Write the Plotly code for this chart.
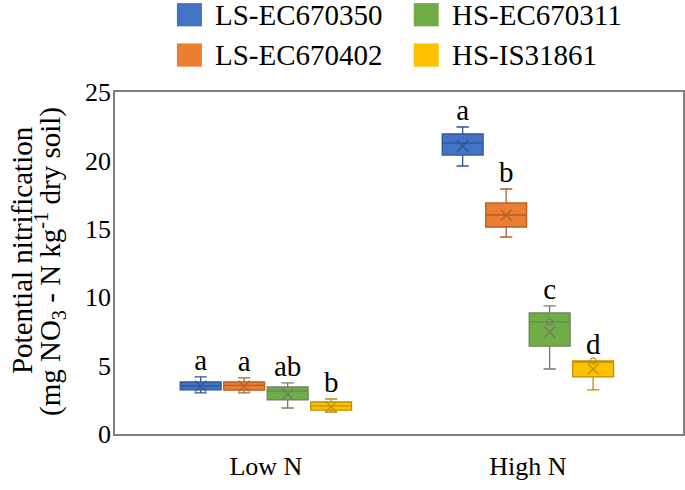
import plotly.graph_objects as go

categories = ["Low N", "High N"]
series = ["LS-EC670350", "LS-EC670402", "HS-EC670311", "HS-IS31861"]
fill_colors = ["#4472C4", "#ED7D31", "#70AD47", "#FFC000"]
line_colors = ["#2F5597", "#B0602A", "#6F7F63", "#BF9000"]

# statistics per series: [Low N, High N]
q1 = [[3.22, 20.39], [3.20, 15.13], [2.49, 6.43], [1.75, 4.17]]
median = [[3.51, 21.27], [3.55, 16.01], [3.14, 8.19], [2.05, 5.26]]
q3 = [[3.80, 21.93], [3.80, 16.89], [3.44, 8.85], [2.34, 5.34]]
lowerfence = [[3.00, 19.59], [3.00, 14.40], [1.90, 4.75], [1.61, 3.22]]
upperfence = [[4.17, 22.44], [4.10, 17.91], [3.73, 9.36], [2.56, 5.34]]
mean = [[3.50, 21.05], [3.50, 16.00], [2.92, 7.46], [2.00, 4.75]]
inner_points = [[None, None], [None, None], [None, 8.19], [None, 5.34]]
letters = [["a", "a"], ["a", "b"], ["ab", "c"], ["b", "d"]]

y_ticks = [0, 5, 10, 15, 20, 25]
y_title_lines = ["Potential nitrification",
                 "(mg NO<sub>3</sub> - N kg<sup>-1</sup> dry soil)"]

FONT = "Liberation Serif"
BOXGAP = 0.336

fig = go.Figure()
for i, name in enumerate(series):
    fig.add_trace(go.Box(
        name=name, x=categories, q1=q1[i], median=median[i], q3=q3[i],
        lowerfence=lowerfence[i], upperfence=upperfence[i],
        fillcolor=fill_colors[i], line=dict(color=line_colors[i], width=1.3),
        whiskerwidth=0.3, boxpoints=False, offsetgroup=name, showlegend=False,
        hoverinfo="skip",
    ))
for i, name in enumerate(series):
    fig.add_trace(go.Scatter(
        x=categories, y=mean[i], mode="markers", offsetgroup=name,
        marker=dict(symbol="x-thin-open", size=11, color=line_colors[i],
                    line=dict(color=line_colors[i], width=1.3)),
        showlegend=False, hoverinfo="skip",
    ))
    fig.add_trace(go.Scatter(
        x=categories, y=inner_points[i], mode="markers", offsetgroup=name,
        marker=dict(symbol="circle-open", size=6, color=line_colors[i],
                    line=dict(color=line_colors[i], width=1.2)),
        showlegend=False, hoverinfo="skip",
    ))
for i, name in enumerate(series):
    fig.add_trace(go.Scatter(
        x=categories, y=upperfence[i], mode="text", text=letters[i],
        textposition="top center", offsetgroup=name,
        textfont=dict(family=FONT, size=29, color="black"),
        showlegend=False, hoverinfo="skip",
    ))

# legend drawn as layout decorations (2 columns)
leg_pos = [(0.109, 1.226), (0.109, 1.108), (0.526, 1.226), (0.526, 1.108)]
for i, name in enumerate(series):
    lx, ly = leg_pos[i]
    fig.add_shape(type="rect", xref="paper", yref="paper",
                  x0=lx, x1=lx + 0.044, y0=ly - 0.034, y1=ly + 0.034,
                  fillcolor=fill_colors[i], line=dict(width=0))
    fig.add_annotation(xref="paper", yref="paper", x=lx + 0.064, y=ly,
                       text=name, showarrow=False, xanchor="left", yanchor="middle",
                       font=dict(family=FONT, size=29, color="black"))

# y-axis title, two rotated lines
for (tx, ty), line in zip([(-0.1637, 0.538), (-0.1144, 0.503)], y_title_lines):
    fig.add_annotation(xref="paper", yref="paper", x=tx, y=ty, text=line,
                       textangle=-90, showarrow=False, xanchor="center", yanchor="middle",
                       font=dict(family=FONT, size=29, color="black"))

fig.update_layout(
    width=685, height=490,
    margin=dict(l=115, r=2, t=92, b=56),
    paper_bgcolor="white", plot_bgcolor="white",
    boxmode="group", boxgap=BOXGAP, boxgroupgap=0.06,
    scattermode="group", scattergap=BOXGAP,
    font=dict(family=FONT, color="black"),
    showlegend=False,
    xaxis=dict(
        type="category", categoryorder="array", categoryarray=categories,
        range=[-0.576, 1.592], showline=True, linecolor="#7F7F7F", linewidth=1.5,
        mirror=True, ticks="", showgrid=False, zeroline=False, automargin=False,
        ticklabelstandoff=8,
        tickfont=dict(family=FONT, size=26, color="black"),
    ),
    yaxis=dict(
        range=[0, 25], tickvals=y_ticks, showline=True, linecolor="#7F7F7F",
        linewidth=1.5, mirror=True, ticks="", showgrid=False, zeroline=False,
        automargin=False, ticklabelstandoff=-3,
        tickfont=dict(family=FONT, size=26, color="black"),
    ),
)

# remove the page's default body margin so the figure fills the window exactly
fig.write_html("out.html", config={"displayModeBar": False},
               post_script="document.body.style.margin='0px';")
